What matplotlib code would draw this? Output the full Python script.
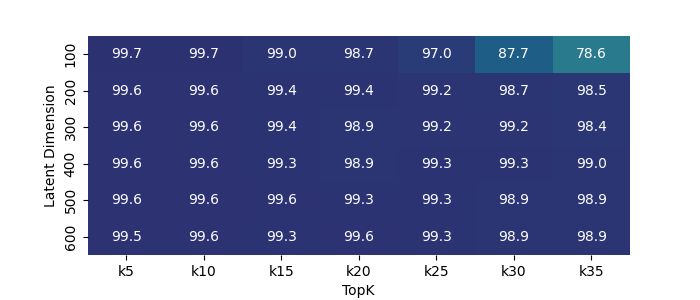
import matplotlib
matplotlib.use("Agg")
import matplotlib.pyplot as plt
import seaborn as sns
import pandas as pd

topk = ["k5", "k10", "k15", "k20", "k25", "k30", "k35"]
latent_dims = ["100", "200", "300", "400", "500", "600"]

row_100 = [99.7, 99.7, 99.0, 98.7, 97.0, 87.7, 78.6]
row_200 = [99.6, 99.6, 99.4, 99.4, 99.2, 98.7, 98.5]
row_300 = [99.6, 99.6, 99.4, 98.9, 99.2, 99.2, 98.4]
row_400 = [99.6, 99.6, 99.3, 98.9, 99.3, 99.3, 99.0]
row_500 = [99.6, 99.6, 99.6, 99.3, 99.3, 98.9, 98.9]
row_600 = [99.5, 99.6, 99.3, 99.6, 99.3, 98.9, 98.9]

df = pd.DataFrame([row_100, row_200, row_300, row_400, row_500, row_600],
                  index=latent_dims, columns=topk)

fig, ax = plt.subplots(figsize=(7, 3), dpi=100)
sns.heatmap(df, annot=True, fmt=".1f", cmap="crest", vmin=50, vmax=100,
            cbar=False, ax=ax)
ax.set_xlabel("TopK")
ax.set_ylabel("Latent Dimension")
plt.subplots_adjust(bottom=0.15)
plt.savefig("out.png")
